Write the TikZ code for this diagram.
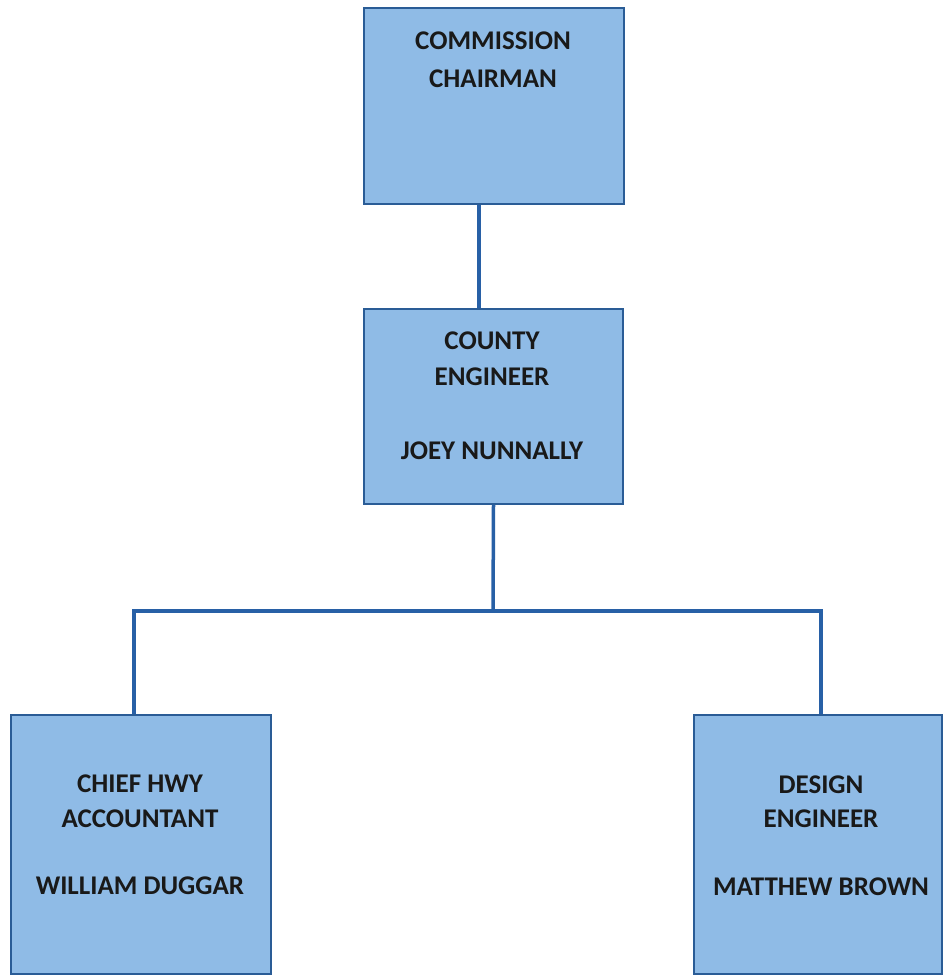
\documentclass[tikz,border=0pt]{standalone}
\usepackage{fontspec}
\setmainfont{Carlito}
\definecolor{boxfill}{RGB}{143,187,230}
\definecolor{boxline}{RGB}{42,92,150}
\definecolor{connline}{RGB}{40,96,166}
\begin{document}
\begin{tikzpicture}[x=1pt,y=-1pt,
  orgbox/.style={draw=boxline,fill=boxfill,line width=2pt,rectangle,inner sep=0pt,anchor=north west},
  conn/.style={draw=connline,line width=3.5pt},
  lbl/.style={font=\fontsize{27}{33}\selectfont\bfseries,anchor=base,inner sep=0pt,text=black!90}]
\useasboundingbox[fill=white] (0,0) rectangle (942,976);
\node[orgbox,minimum width=260pt,minimum height=196pt] (top) at (363,7) {};
\node[orgbox,minimum width=259pt,minimum height=195pt] (mid) at (363,308) {};
\node[orgbox,minimum width=260pt,minimum height=259pt] (left) at (10,714) {};
\node[orgbox,minimum width=248pt,minimum height=259pt] (right) at (693,714) {};
\coordinate (j) at (493,611);
\draw[conn] ([xshift=-15pt]top.south) -- ([xshift=-15pt]top.south |- mid.north);
\draw[conn] (mid.south) -- (j);
\draw[conn] (j) -| ([xshift=-7pt]left.north);
\draw[conn] (j) -| ([xshift=3pt]right.north);
\node[lbl] (t1) at (493,50) {COMMISSION};
\node[lbl] (t2) at (493,88) {CHAIRMAN};
\node[lbl] (m1) at (492,349) {COUNTY};
\node[lbl] (m2) at (492,385) {ENGINEER};
\node[lbl] (m3) at (492,459) {JOEY NUNNALLY};
\node[lbl] (l1) at (140,792) {CHIEF HWY};
\node[lbl] (l2) at (140,827) {ACCOUNTANT};
\node[lbl] (l3) at (140,894) {WILLIAM DUGGAR};
\node[lbl] (r1) at (821,793) {DESIGN};
\node[lbl] (r2) at (821,827) {ENGINEER};
\node[lbl] (r3) at (821,895) {MATTHEW BROWN};
\end{tikzpicture}
\end{document}
